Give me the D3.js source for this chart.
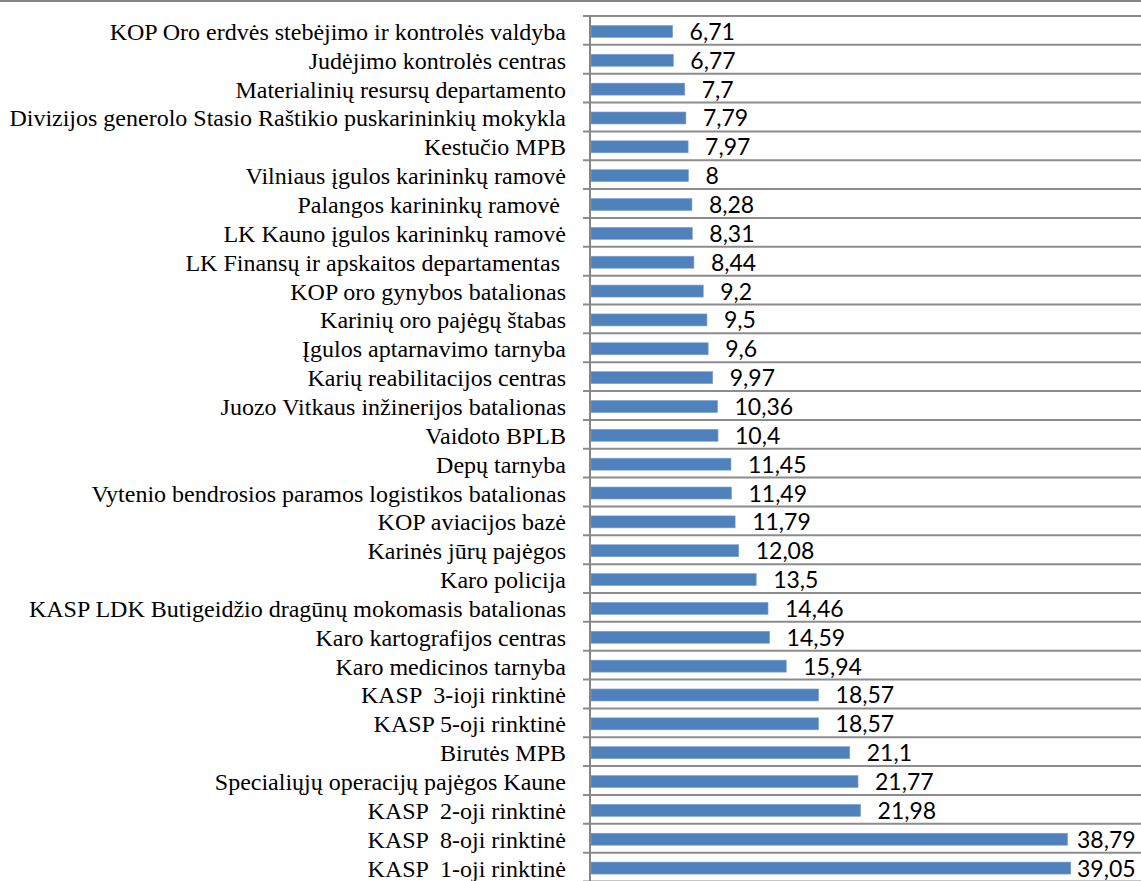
<!DOCTYPE html>
<html>
<head>
<meta charset="utf-8">
<script src="https://cdn.jsdelivr.net/npm/d3@7"></script>
<style>
  body { margin: 0; background: #fff; }
  svg { display: block; }
</style>
</head>
<body>
<script>
const categories = [
    "KOP Oro erdvės stebėjimo ir kontrolės valdyba",
    "Judėjimo kontrolės centras",
    "Materialinių resursų departamento",
    "Divizijos generolo Stasio Raštikio puskarininkių mokykla",
    "Kestučio MPB",
    "Vilniaus įgulos karininkų ramovė",
    "Palangos karininkų ramovė ",
    "LK Kauno įgulos karininkų ramovė",
    "LK Finansų ir apskaitos departamentas ",
    "KOP oro gynybos batalionas",
    "Karinių oro pajėgų štabas",
    "Įgulos aptarnavimo tarnyba",
    "Karių reabilitacijos centras",
    "Juozo Vitkaus inžinerijos batalionas",
    "Vaidoto BPLB",
    "Depų tarnyba",
    "Vytenio bendrosios paramos logistikos batalionas",
    "KOP aviacijos bazė",
    "Karinės jūrų pajėgos",
    "Karo policija",
    "KASP LDK Butigeidžio dragūnų mokomasis batalionas",
    "Karo kartografijos centras",
    "Karo medicinos tarnyba",
    "KASP  3-ioji rinktinė",
    "KASP 5-oji rinktinė",
    "Birutės MPB",
    "Specialiųjų operacijų pajėgos Kaune",
    "KASP  2-oji rinktinė",
    "KASP  8-oji rinktinė",
    "KASP  1-oji rinktinė"
];

const values = [
    6.71, 6.77, 7.7, 7.79, 7.97, 8, 8.28, 8.31, 8.44, 9.2,
    9.5, 9.6, 9.97, 10.36, 10.4, 11.45, 11.49, 11.79, 12.08, 13.5,
    14.46, 14.59, 15.94, 18.57, 18.57, 21.1, 21.77, 21.98, 38.79, 39.05
];

const valueLabels = values.map(v => String(v).replace(".", ","));

const width = 1141;
const height = 881;

const svg = d3.select("body").append("svg")
    .attr("width", width)
    .attr("height", height);

// top border
svg.append("line")
    .attr("x1", 0).attr("x2", width)
    .attr("y1", 1).attr("y2", 1)
    .attr("stroke", "#868686")
    .attr("stroke-width", 2);

const x = d3.scaleLinear().domain([0, 45]).range([591, 1145]);
const y = d3.scaleBand().domain(categories).range([16, 16 + 30 * 28.85]);

// gridlines at category boundaries (incl. tick stubs left of the axis)
const bounds = categories.map(c => y(c)).concat([y.range()[1]]);
svg.selectAll("line.grid")
    .data(bounds)
    .enter()
    .append("line")
    .attr("class", "grid")
    .attr("x1", 583).attr("x2", width)
    .attr("y1", d => d).attr("y2", d => d)
    .attr("stroke", "#8c8c8c")
    .attr("stroke-width", 2);

// bars
const barH = 12;
svg.selectAll("rect.bar")
    .data(values)
    .enter()
    .append("rect")
    .attr("class", "bar")
    .attr("x", x(0))
    .attr("y", (d, i) => y(categories[i]) + y.bandwidth() / 2 - barH / 2 + 1)
    .attr("width", d => x(d) - x(0) - 1)
    .attr("height", barH)
    .attr("fill", "#4f81bd")
    .attr("stroke", "#7fa3d1")
    .attr("stroke-width", 0.6);

// axis line
svg.append("line")
    .attr("x1", 590).attr("x2", 590)
    .attr("y1", 15).attr("y2", height)
    .attr("stroke", "#868686")
    .attr("stroke-width", 2);

// category labels
svg.selectAll("text.cat")
    .data(categories)
    .enter()
    .append("text")
    .attr("class", "cat")
    .attr("x", 566)
    .attr("y", d => y(d) + y.bandwidth() / 2 + 9.5)
    .attr("text-anchor", "end")
    .style("white-space", "pre")
    .attr("font-family", "'Liberation Serif', 'Times New Roman', serif")
    .attr("font-size", "24px")
    .attr("fill", "#000")
    .text(d => d);

// value labels (the two longest bars get pushed back inside the frame)
svg.selectAll("text.val")
    .data(values)
    .enter()
    .append("text")
    .attr("class", "val")
    .attr("x", d => Math.min(x(d) + 16, 1077))
    .attr("y", (d, i) => y(categories[i]) + y.bandwidth() / 2 + 9.5)
    .attr("font-family", "Lato, 'Open Sans', sans-serif")
    .attr("font-size", "23px")
    .attr("fill", "#000")
    .text((d, i) => valueLabels[i]);
</script>
</body>
</html>
